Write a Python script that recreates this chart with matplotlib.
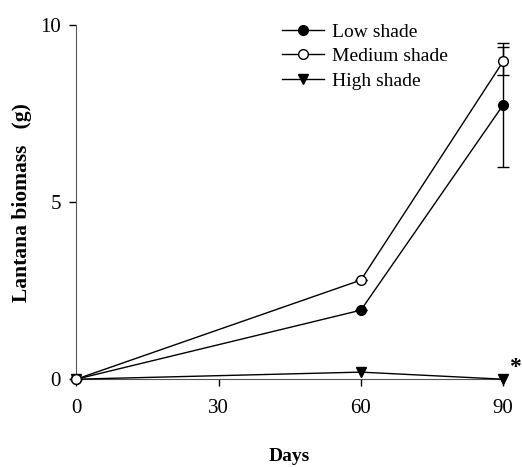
import matplotlib.pyplot as plt
from matplotlib.lines import Line2D

plt.rcParams['font.family'] = 'Liberation Serif'

days = [0, 60, 90]
low = [0, 1.95, 7.75]
low_err = [0, 0, 1.75]
medium = [0, 2.8, 8.98]
medium_err = [0, 0, 0.4]
high = [0, 0.2, 0]
names = ['Low shade', 'Medium shade', 'High shade']

fig = plt.figure(figsize=(5.22, 4.67), dpi=100)
ax = fig.add_axes([0.146, 0.188, 0.818, 0.758])

ax.errorbar(days, low, yerr=low_err, color='black', marker='o', markersize=7,
            mfc='black', mec='black', lw=1, capsize=4, elinewidth=1,
            clip_on=False, zorder=3)
ax.errorbar(days, medium, yerr=medium_err, color='black', marker='o', markersize=7,
            mfc='white', mec='black', lw=1, capsize=4, elinewidth=1,
            clip_on=False, zorder=3)
ax.plot(days, high, color='black', marker='v', markersize=7, lw=1,
        clip_on=False, zorder=3)

# significance mark
ax.text(91.2, 0.32, '*', fontsize=17, fontweight='bold', ha='left', va='center')

ax.set_xlim(0, 90)
ax.set_ylim(0, 10)
ax.set_xticks([0, 30, 60, 90])
ax.set_yticks([0, 5, 10])
ax.tick_params(labelsize=15, length=5, width=1, direction='out')
ax.tick_params(axis='x', pad=9)
ax.tick_params(axis='y', pad=6)

for s in ['top', 'right']:
    ax.spines[s].set_visible(False)
for s in ['left', 'bottom']:
    ax.spines[s].set_color('#555555')

ax.set_xlabel('Days', fontsize=14, fontweight='bold', labelpad=22)
ax.set_ylabel('Lantana biomass   (g)', fontsize=15.5, fontweight='bold', labelpad=6)

handles = [
    Line2D([], [], color='black', lw=1, marker='o', markersize=7, mfc='black', mec='black'),
    Line2D([], [], color='black', lw=1, marker='o', markersize=7, mfc='white', mec='black'),
    Line2D([], [], color='black', lw=1, marker='v', markersize=7),
]
ax.legend(handles, names, loc='upper left', bbox_to_anchor=(0.44, 1.055), frameon=False,
          fontsize=14, handlelength=2.2, handletextpad=0.4, labelspacing=0.35)

fig.savefig('out.png', dpi=100)
